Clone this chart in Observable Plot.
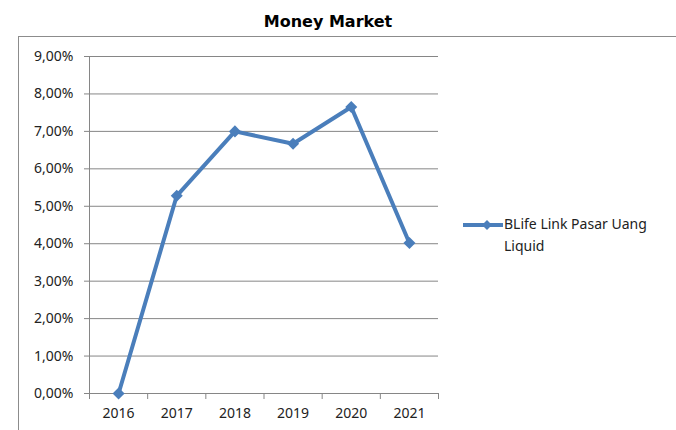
<!DOCTYPE html>
<html>
<head>
<meta charset="utf-8">
<script src="https://cdn.jsdelivr.net/npm/d3@7"></script>
<script src="https://cdn.jsdelivr.net/npm/@observablehq/plot@0.6"></script>
<style>
  html, body { margin: 0; padding: 0; background: #fff; }
  #wrap { position: relative; width: 676px; height: 430px; overflow: hidden; background: #fff; }
  #border { position: absolute; left: 18px; top: 36px; width: 680px; height: 420px; border: 1px solid #8c8c8c; box-sizing: border-box; }
  #title { position: absolute; left: 0; width: 656px; top: 12px; text-align: center; font: bold 16px "DejaVu Sans", sans-serif; color: #000; }
  #chart { position: absolute; left: 0; top: 0; }
  #legend { position: absolute; left: 462px; top: 213px; font: 14px "Noto Sans", sans-serif; color: #222; line-height: 22px; }
  #legend svg { position: absolute; left: 0; top: 5px; }
  #legend .txt { margin-left: 42px; white-space: nowrap; }
</style>
</head>
<body>
<div id="wrap">
  <div id="border"></div>
  <div id="title"></div>
  <div id="chart"></div>
  <div id="legend"></div>
</div>
<script>
const title = "Money Market";
const seriesName = "BLife Link Pasar Uang";
const seriesName2 = "Liquid";
const years = [2016, 2017, 2018, 2019, 2020, 2021];
const values = [0.0000, 0.0528, 0.0700, 0.0667, 0.0765, 0.0402];
const yTicks = [0, 0.01, 0.02, 0.03, 0.04, 0.05, 0.06, 0.07, 0.08, 0.09];
const yTickLabels = ["0,00%", "1,00%", "2,00%", "3,00%", "4,00%", "5,00%", "6,00%", "7,00%", "8,00%", "9,00%"];
const lineColor = "#4a7ebb";
const gridColor = "#868686";

const data = years.map((y, i) => ({year: y, value: values[i]}));
const boundaries = [...years.map(y => y - 0.5), years[years.length - 1] + 0.5];

document.getElementById("title").textContent = title;

const plot = Plot.plot({
  width: 676,
  height: 430,
  marginLeft: 89,
  marginRight: 238,
  marginTop: 56,
  marginBottom: 37,
  style: {background: "none", fontFamily: "'Noto Sans', sans-serif", fontSize: "14px", color: "#222", overflow: "visible"},
  x: {type: "linear", domain: [years[0] - 0.5, years[years.length - 1] + 0.5]},
  y: {domain: [0, 0.09]},
  marks: [
    Plot.gridY(yTicks, {stroke: gridColor, strokeOpacity: 1, strokeWidth: 1}),
    Plot.axisY(yTicks, {tickSize: 5, tickPadding: 11, stroke: gridColor, fill: "#222", fontSize: 14,
      tickFormat: d => yTickLabels[yTicks.indexOf(d)], label: null}),
    Plot.axisX(boundaries, {tickSize: 6, tickFormat: () => "", stroke: gridColor, label: null}),
    Plot.axisX(years, {tickSize: 0, tickPadding: 15, fill: "#222", fontSize: 14, tickFormat: d => String(d), label: null}),
    Plot.ruleX([boundaries[0]], {stroke: gridColor, strokeWidth: 1}),
    Plot.line(data, {x: "year", y: "value", stroke: lineColor, strokeWidth: 4, strokeLinejoin: "round"}),
    Plot.dot(data, {x: "year", y: "value", symbol: "square", rotate: 45, r: 4.8, fill: lineColor, stroke: null})
  ]
});
document.getElementById("chart").appendChild(plot);

const legend = document.getElementById("legend");
const sw = d3.create("svg").attr("width", 42).attr("height", 14);
sw.append("line").attr("x1", 1).attr("x2", 41).attr("y1", 7).attr("y2", 7).attr("stroke", lineColor).attr("stroke-width", 4);
sw.append("rect").attr("x", -3.5).attr("y", -3.5).attr("width", 7).attr("height", 7)
  .attr("transform", "translate(25,7) rotate(45)").attr("fill", lineColor);
legend.appendChild(sw.node());
const t1 = document.createElement("div"); t1.className = "txt"; t1.textContent = seriesName;
const t2 = document.createElement("div"); t2.className = "txt"; t2.textContent = seriesName2;
legend.appendChild(t1); legend.appendChild(t2);
</script>
</body>
</html>
